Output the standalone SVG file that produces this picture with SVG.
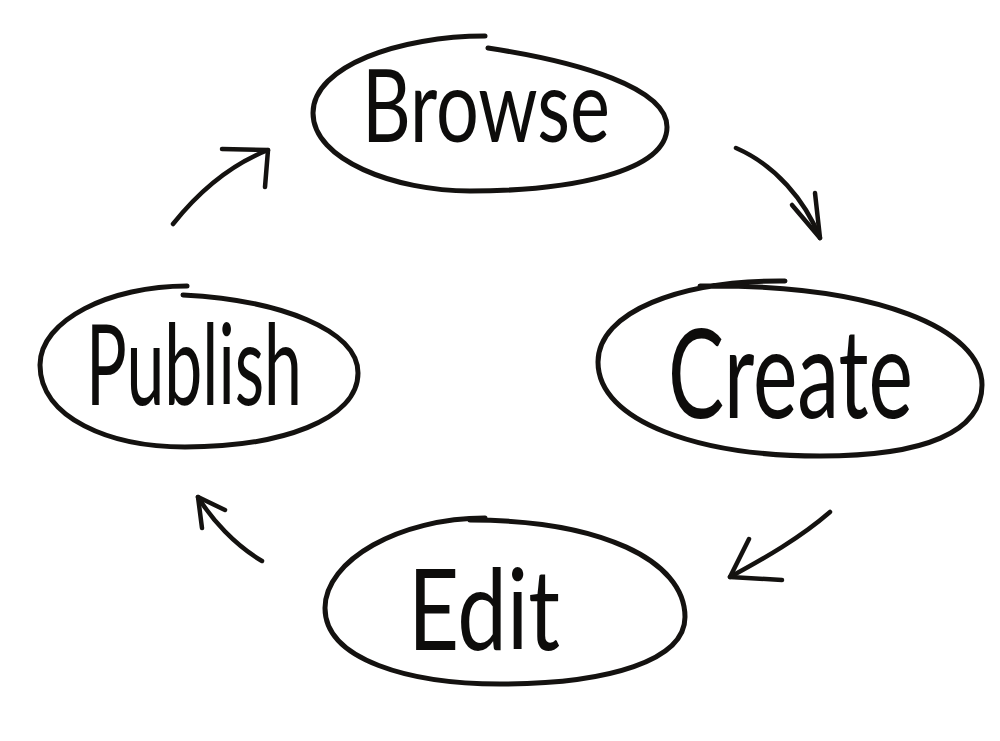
<svg xmlns="http://www.w3.org/2000/svg" width="1000" height="741" viewBox="0 0 1000 741">
<style>
.ring{fill:none;stroke:#141210;stroke-width:5;stroke-linecap:round;stroke-linejoin:round}
.arr{fill:none;stroke:#141210;stroke-width:4.5;stroke-linecap:round;stroke-linejoin:round}
.lbl{font-family:Lato,"Open Sans","DejaVu Sans",sans-serif;fill:#0d0c0b;font-weight:400}
</style>
<rect width="1000" height="741" fill="#ffffff"/>
<g id="browse">
<path class="ring" d="M485,36 C400,36 313,66 313,113 C313,160 395,191 470,191 C570,191 667,172 667,127 C667,88 580,62 488,48"/>
<text class="lbl" x="362" y="142" font-size="100" textLength="248" lengthAdjust="spacingAndGlyphs">Browse</text>
</g>
<g id="create">
<path class="ring" d="M785,281 C680,280 598,312 598,362 C598,422 700,456 820,456 C925,456 982,432 982,385 C982,330 880,284 700,286"/>
<text class="lbl" x="668" y="418" font-size="125" textLength="245" lengthAdjust="spacingAndGlyphs">Create</text>
</g>
<g id="publish">
<path class="ring" d="M187,286 C110,286 40,320 40,365 C40,418 110,447 185,447 C280,447 358,420 358,373 C358,330 280,300 183,295"/>
<text class="lbl" x="86" y="405" font-size="112" textLength="216" lengthAdjust="spacingAndGlyphs">Publish</text>
</g>
<g id="edit">
<path class="ring" d="M485,518 C400,518 325,560 325,608 C325,660 410,684 500,684 C610,684 685,660 685,617 C685,560 600,520 470,520"/>
<text class="lbl" x="408" y="650" font-size="112" textLength="152" lengthAdjust="spacingAndGlyphs">Edit</text>
</g>
<g id="connectors">
<path class="arr" d="M173,224 C200,190 230,165 268,150"/>
<path class="arr" d="M222,149 L268,150 L265,187"/>
<path class="arr" d="M736,148 C775,165 805,200 820,238"/>
<path class="arr" d="M792,205 L820,238 L815,193"/>
<path class="arr" d="M830,512 C800,538 765,558 730,577"/>
<path class="arr" d="M749,539 L730,577 L782,580"/>
<path class="arr" d="M262,561 C235,545 212,520 198,497"/>
<path class="arr" d="M202,528 L198,497 L225,510"/>
</g>
</svg>
